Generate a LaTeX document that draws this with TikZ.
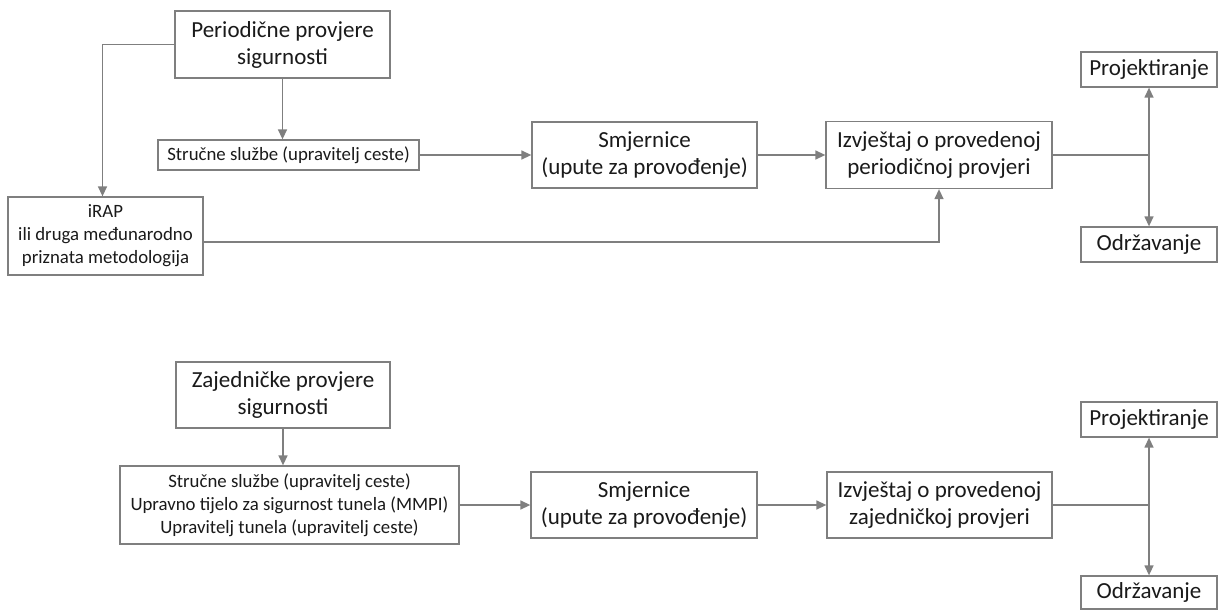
\documentclass[tikz,border=0pt]{standalone}
\usepackage{fontspec}
\setmainfont{Carlito}
\usetikzlibrary{arrows.meta}
\definecolor{edgegray}{HTML}{7F7F7F}
\definecolor{txt}{HTML}{1A1A1A}
\tikzset{
  box/.style={draw=edgegray, line width=1.3pt, fill=white, text=txt, align=center, inner sep=0pt, anchor=center},
  big/.style={font=\fontsize{23}{27}\selectfont},
  small/.style={font=\fontsize{18.8}{23}\selectfont},
  conn/.style={draw=edgegray, line width=1.4pt},
  arr/.style={conn, -{Triangle[length=10pt,width=9pt]}}
}
\begin{document}
\begin{tikzpicture}[x=1pt,y=-1pt]
\useasboundingbox (0,0) rectangle (1218,610);
% top section
\node[box,big,minimum width=215pt,minimum height=67pt] (per) at (282.5,44.5) {Periodične provjere\\sigurnosti};
\node[box,small,minimum width=261pt,minimum height=30pt] (str1) at (288.5,155) {Stručne službe (upravitelj ceste)};
\node[box,small,minimum width=195pt,minimum height=78pt] (irap) at (105.5,236) {iRAP\\ili druga međunarodno\\priznata metodologija};
\node[box,big,minimum width=225pt,minimum height=66pt] (smj1) at (644.5,155) {Smjernice\\(upute za provođenje)};
\node[box,big,minimum width=226pt,minimum height=67pt] (izv1) at (939,155) {Izvještaj o provedenoj\\periodičnoj provjeri};
\node[box,big,minimum width=136pt,minimum height=35pt] (proj1) at (1149,69.5) {Projektiranje};
\node[box,big,minimum width=136pt,minimum height=35pt] (odr1) at (1149,244.5) {Održavanje};
\coordinate (j1) at (1149,155);
\draw[arr] (per.west) -| ([xshift=-3pt]irap.north);
\draw[arr] (per.south) -- (per.south |- str1.north);
\draw[arr] (str1.east) -- (str1.east -| smj1.west);
\draw[arr] (smj1.east) -- (smj1.east -| izv1.west);
\draw[arr] ([yshift=-6pt]irap.east) -| (izv1.south);
\draw[conn] (izv1.east) -- (j1);
\draw[arr] (j1) -- (proj1.south);
\draw[arr] (j1) -- (odr1.north);
% bottom section
\node[box,big,minimum width=214pt,minimum height=66pt] (zaj) at (283,395) {Zajedničke provjere\\sigurnosti};
\node[box,small,minimum width=339pt,minimum height=78pt] (str2) at (289.5,505) {Stručne službe (upravitelj ceste)\\Upravno tijelo za sigurnost tunela (MMPI)\\Upravitelj tunela (upravitelj ceste)};
\node[box,big,minimum width=226pt,minimum height=66pt] (smj2) at (644,505) {Smjernice\\(upute za provođenje)};
\node[box,big,minimum width=225pt,minimum height=66pt] (izv2) at (939.5,505) {Izvještaj o provedenoj\\zajedničkoj provjeri};
\node[box,big,minimum width=136pt,minimum height=35pt] (proj2) at (1149,419.5) {Projektiranje};
\node[box,big,minimum width=136pt,minimum height=33pt] (odr2) at (1149,592.5) {Održavanje};
\coordinate (j2) at (1149,505);
\draw[arr] (zaj.south) -- (zaj.south |- str2.north);
\draw[arr] (str2.east) -- (str2.east -| smj2.west);
\draw[arr] (smj2.east) -- (smj2.east -| izv2.west);
\draw[conn] (izv2.east) -- (j2);
\draw[arr] (j2) -- (proj2.south);
\draw[arr] (j2) -- (odr2.north);
\end{tikzpicture}
\end{document}
